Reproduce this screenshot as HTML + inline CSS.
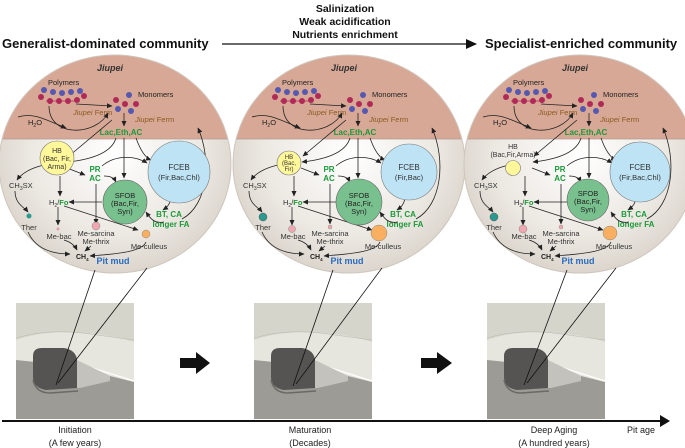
<!DOCTYPE html>
<html><head><meta charset="utf-8"><style>
html,body{margin:0;padding:0;background:#fff;}
svg{display:block;font-family:"Liberation Sans",Arial,sans-serif;}
</style></head><body>
<svg width="685" height="448" viewBox="0 0 685 448" xmlns="http://www.w3.org/2000/svg">
<defs>
<marker id="ah" markerWidth="6" markerHeight="6" refX="5" refY="3" orient="auto" markerUnits="userSpaceOnUse"><path d="M0,0.5 L5.5,3 L0,5.5 z" fill="#222"/></marker>
<marker id="big" markerWidth="12" markerHeight="12" refX="10" refY="5" orient="auto" markerUnits="userSpaceOnUse"><path d="M0,0 L11,5 L0,10 z" fill="#111"/></marker>
<radialGradient id="rg" cx="0.5" cy="0.45" r="0.6"><stop offset="0" stop-color="#ffffff"/><stop offset="0.6" stop-color="#ece8e2"/><stop offset="1" stop-color="#d3ccc2"/></radialGradient>
<clipPath id="cc"><ellipse cx="349" cy="164" rx="116" ry="109"/></clipPath>
<g id="common">
 <g clip-path="url(#cc)">
  <rect x="230" y="50" width="240" height="230" fill="url(#rg)"/>
  <rect x="230" y="50" width="240" height="89" fill="#d8a896"/>
  <line x1="230" y1="139" x2="470" y2="139" stroke="#b09a90" stroke-width="0.8"/>
 </g>
 <ellipse cx="349" cy="164" rx="116" ry="109" fill="none" stroke="#cfc6bc" stroke-width="1"/>
 <text x="344" y="71" font-size="9" font-weight="bold" font-style="italic" text-anchor="middle" fill="#333">Jiupei</text>
 <text x="282" y="85" font-size="7.5" fill="#222">Polymers</text>
 <g fill="#5558b0"><circle cx="287" cy="92" r="3"/><circle cx="296" cy="93" r="3"/><circle cx="305" cy="92" r="3"/><circle cx="314" cy="91" r="3"/><circle cx="278" cy="90" r="3"/></g>
 <g fill="#b02a58"><circle cx="275" cy="97" r="3"/><circle cx="284" cy="101" r="3"/><circle cx="293" cy="101" r="3"/><circle cx="302" cy="101" r="3"/><circle cx="311" cy="100" r="3"/><circle cx="318" cy="96" r="3"/></g>
 <line x1="280" y1="101" x2="312" y2="101" stroke="#b02a58" stroke-width="0.8"/>
 <text x="372" y="97" font-size="7.5" fill="#222">Monomers</text>
 <g fill="#5558b0"><circle cx="363" cy="95" r="3"/><circle cx="352" cy="109" r="3"/><circle cx="365" cy="111" r="3"/></g>
 <g fill="#b02a58"><circle cx="350" cy="100" r="3"/><circle cx="359" cy="104" r="3"/><circle cx="370" cy="104" r="3"/></g>
 <text x="307" y="115" font-size="7.5" font-style="italic" fill="#8a5a20">Jiupei<tspan font-style="normal"> Ferm</tspan></text>
 <text x="369" y="122" font-size="7.5" font-style="italic" fill="#8a5a20">Jiupei<tspan font-style="normal"> Ferm</tspan></text>
 <text x="262" y="125" font-size="7.5" fill="#222">H<tspan font-size="5" dy="2">2</tspan><tspan dy="-2">O</tspan></text>
 <text x="355" y="135" font-size="8" font-weight="bold" fill="#1a9a3a" text-anchor="middle">Lac,Eth,AC</text>
 <text x="329" y="172" font-size="8" font-weight="bold" fill="#1a9a3a" text-anchor="middle">PR</text>
 <text x="329" y="181" font-size="8" font-weight="bold" fill="#1a9a3a" text-anchor="middle">AC</text>
 <text x="243" y="188" font-size="7.5" fill="#333">CH<tspan font-size="5" dy="2">3</tspan><tspan dy="-2">SX</tspan></text>
 <text x="283" y="205" font-size="7.5" fill="#333">H<tspan font-size="5" dy="2">2</tspan><tspan dy="-2">/</tspan><tspan fill="#1a9a3a" font-weight="bold">Fo</tspan></text>
 <text x="263" y="230" font-size="7.5" fill="#333" text-anchor="middle">Ther</text>
 <text x="293" y="239" font-size="7.5" fill="#333" text-anchor="middle">Me-bac</text>
 <text x="330" y="236" font-size="7.5" fill="#333" text-anchor="middle">Me-sarcina</text>
 <text x="330" y="244" font-size="7.5" fill="#333" text-anchor="middle">Me-thrix</text>
 <text x="383" y="249" font-size="7.5" fill="#333" text-anchor="middle">Me-culleus</text>
 <text x="403" y="217" font-size="8" font-weight="bold" fill="#1a9a3a" text-anchor="middle">BT, CA</text>
 <text x="405" y="227" font-size="8" font-weight="bold" fill="#1a9a3a" text-anchor="middle">longer FA</text>
 <text x="310" y="259" font-size="7" font-weight="bold" fill="#222">CH<tspan font-size="4.5" dy="2">4</tspan></text>
 <text x="347" y="264" font-size="9" font-weight="bold" fill="#2a6bc0" text-anchor="middle">Pit mud</text>
 <g fill="none" stroke="#222" stroke-width="0.8" marker-end="url(#ah)">
  <path d="M310,104 L346,106"/>
  <path d="M283,106 C283,138 330,136 342,113"/>
  <path d="M252,117 C268,112 280,120 300,128"/>
  <path d="M358,113 L358,126"/>
  <path d="M346,120 L303,156"/>
  <path d="M350,138 C345,155 320,160 302,162"/>
  <path d="M358,138 L358,178"/>
  <path d="M370,138 C375,152 380,158 385,160"/>
  <path d="M301,168 L319,175"/>
  <path d="M338,176 C345,176 348,178 350,182"/>
  <path d="M336,166 C350,154 370,156 381,163"/>
  <path d="M278,165 C265,168 256,173 251,180"/>
  <path d="M294,176 L294,196"/>
  <path d="M249,191 C249,204 258,207 262,212"/>
  <path d="M292,207 L292,225"/>
  <path d="M336,202 L303,202"/>
  <path d="M298,206 L372,230"/>
  <path d="M330,184 L330,224"/>
  <path d="M405,198 C404,205 400,208 397,210"/>
  <path d="M398,222 C388,224 384,218 380,212"/>
  <path d="M416,219 C442,205 446,160 432,128"/>
  <path d="M262,232 C270,250 288,254 304,254"/>
  <path d="M298,240 C305,242 309,246 311,250"/>
  <path d="M325,246 L319,251"/>
  <path d="M380,242 C376,252 350,254 324,256"/>
 </g>
</g>
</defs>

<text x="2" y="48" font-size="13" font-weight="bold" fill="#111">Generalist-dominated community</text>
<text x="485" y="48" font-size="13" font-weight="bold" fill="#111">Specialist-enriched community</text>
<text x="345" y="12" font-size="10.5" font-weight="bold" fill="#111" text-anchor="middle">Salinization</text>
<text x="345" y="25" font-size="10.5" font-weight="bold" fill="#111" text-anchor="middle">Weak acidification</text>
<text x="345" y="38" font-size="10.5" font-weight="bold" fill="#111" text-anchor="middle">Nutrients enrichment</text>
<line x1="222" y1="44" x2="476" y2="44" stroke="#111" stroke-width="1.2" marker-end="url(#big)"/>

<g transform="translate(-234,0)">
 <use href="#common"/>
 <circle cx="291" cy="158" r="17" fill="#fff799" stroke="#777" stroke-width="0.6"/>
 <text x="291" y="153" font-size="7" fill="#333" text-anchor="middle">HB</text>
 <text x="291" y="161" font-size="7" fill="#333" text-anchor="middle">(Bac, Fir,</text>
 <text x="291" y="169" font-size="7" fill="#333" text-anchor="middle">Arma)</text>
 <circle cx="413" cy="172" r="31" fill="#bde3f4" stroke="#777" stroke-width="0.6"/>
 <text x="413" y="170" font-size="8" fill="#333" text-anchor="middle">FCEB</text>
 <text x="413" y="180" font-size="7.5" fill="#333" text-anchor="middle">(Fir,Bac,Chl)</text>
 <circle cx="359" cy="202" r="22" fill="#79c08f" stroke="#666" stroke-width="0.6"/>
 <circle cx="263" cy="216" r="2.5" fill="#2a9a90"/>
 <circle cx="292" cy="229" r="1.5" fill="#e0a0a8"/>
 <circle cx="330" cy="226" r="4" fill="#f0a8b0" stroke="#888" stroke-width="0.5"/>
 <circle cx="380" cy="234" r="4" fill="#f8b060" stroke="#888" stroke-width="0.5"/>
</g>
<g>
 <use href="#common"/>
 <circle cx="289" cy="163" r="12" fill="#fff799" stroke="#777" stroke-width="0.6"/>
 <text x="289" y="159" font-size="6" fill="#333" text-anchor="middle">HB</text>
 <text x="289" y="165" font-size="6" fill="#333" text-anchor="middle">(Bac,</text>
 <text x="289" y="171" font-size="6" fill="#333" text-anchor="middle">Fir)</text>
 <circle cx="409" cy="172" r="28" fill="#bde3f4" stroke="#777" stroke-width="0.6"/>
 <text x="409" y="170" font-size="8" fill="#333" text-anchor="middle">FCEB</text>
 <text x="409" y="180" font-size="7.5" fill="#333" text-anchor="middle">(Fir,Bac)</text>
 <circle cx="359" cy="202" r="23" fill="#79c08f" stroke="#666" stroke-width="0.6"/>
 <circle cx="263" cy="217" r="4" fill="#2a9a90" stroke="#555" stroke-width="0.5"/>
 <circle cx="292" cy="229" r="3.5" fill="#f0a8b0" stroke="#888" stroke-width="0.5"/>
 <circle cx="330" cy="227" r="2" fill="#f0a8b0" stroke="#888" stroke-width="0.4"/>
 <circle cx="379" cy="233" r="8" fill="#f8b060" stroke="#888" stroke-width="0.5"/>
</g>
<g transform="translate(231,0)">
 <use href="#common"/>
 <text x="282" y="149" font-size="7" fill="#333" text-anchor="middle">HB</text>
 <text x="282" y="157" font-size="7" fill="#333" text-anchor="middle">(Bac,Fir,Arma)</text>
 <circle cx="282" cy="168" r="7.5" fill="#fff799" stroke="#777" stroke-width="0.6"/>
 <circle cx="409" cy="172" r="30" fill="#bde3f4" stroke="#777" stroke-width="0.6"/>
 <text x="409" y="170" font-size="8" fill="#333" text-anchor="middle">FCEB</text>
 <text x="409" y="180" font-size="7.5" fill="#333" text-anchor="middle">(Fir,Bac,Chl)</text>
 <circle cx="357" cy="200" r="21" fill="#79c08f" stroke="#666" stroke-width="0.6"/>
 <circle cx="263" cy="217" r="4" fill="#2a9a90" stroke="#555" stroke-width="0.5"/>
 <circle cx="292" cy="229" r="4" fill="#f0a8b0" stroke="#888" stroke-width="0.5"/>
 <circle cx="330" cy="227" r="2" fill="#f0a8b0" stroke="#888" stroke-width="0.4"/>
 <circle cx="379" cy="233" r="7" fill="#f8b060" stroke="#888" stroke-width="0.5"/>
</g>
<g font-size="7.5" fill="#222" text-anchor="middle">
 <text x="125" y="198">SFOB</text><text x="125" y="206">(Bac,Fir,</text><text x="125" y="214">Syn)</text>
 <text x="359" y="198">SFOB</text><text x="359" y="206">(Bac,Fir,</text><text x="359" y="214">Syn)</text>
 <text x="588" y="196">SFOB</text><text x="588" y="204">(Bac,Fir,</text><text x="588" y="212">Syn)</text>
</g>

<g id="box">
 <rect x="16" y="303" width="118" height="116" fill="#d6d5cb"/>
 <rect x="16" y="360" width="118" height="59" fill="#9d9b96"/>
 <path d="M16,340 Q45,330 80,333 Q110,334 134,342 L134,382 L110,376 L74,366 L16,360 z" fill="#e7e6de"/>
 <path d="M16,338 Q50,328 90,334 L134,340" fill="none" stroke="#b8b7ae" stroke-width="0.5"/>
 <path d="M35,350 L134,381" stroke="#fff" stroke-width="1.3"/>
 <path d="M33,356 Q33,348 42,348 L64,348 Q76,350 77,360 L77,388 L46,390 Q34,388 33,378 z" fill="#555452"/>
 <path d="M77,360 L110,376 L110,381 L80,388 L77,388 z" fill="#c4c2bd"/>
 <path d="M33,380 Q36,393 50,393 L78,391" fill="none" stroke="#6a6966" stroke-width="1.5"/>
</g>
<use href="#box" transform="translate(238,0)"/>
<use href="#box" transform="translate(471,0)"/>

<g stroke="#111" stroke-width="0.8">
 <line x1="95" y1="270" x2="56" y2="385"/><line x1="147" y1="268" x2="58" y2="383"/>
 <line x1="333" y1="270" x2="293" y2="386"/><line x1="382" y1="268" x2="296" y2="384"/>
 <line x1="567" y1="270" x2="524" y2="385"/><line x1="616" y1="268" x2="527" y2="383"/>
</g>

<path d="M180,358 L196,358 L196,352 L210,363 L196,374 L196,368 L180,368 z" fill="#111"/>
<path d="M421,358 L437,358 L437,352 L452,363 L437,374 L437,368 L421,368 z" fill="#111"/>

<line x1="2" y1="421" x2="664" y2="421" stroke="#111" stroke-width="2"/>
<path d="M660,415 L670,421 L660,427 z" fill="#111"/>
<g font-size="9" fill="#222" text-anchor="middle">
 <text x="75" y="433">Initiation</text><text x="75" y="446">(A few years)</text>
 <text x="310" y="433">Maturation</text><text x="310" y="446">(Decades)</text>
 <text x="554" y="433">Deep Aging</text><text x="554" y="446">(A hundred years)</text>
 <text x="641" y="433">Pit age</text>
</g>
</svg>
</body></html>
